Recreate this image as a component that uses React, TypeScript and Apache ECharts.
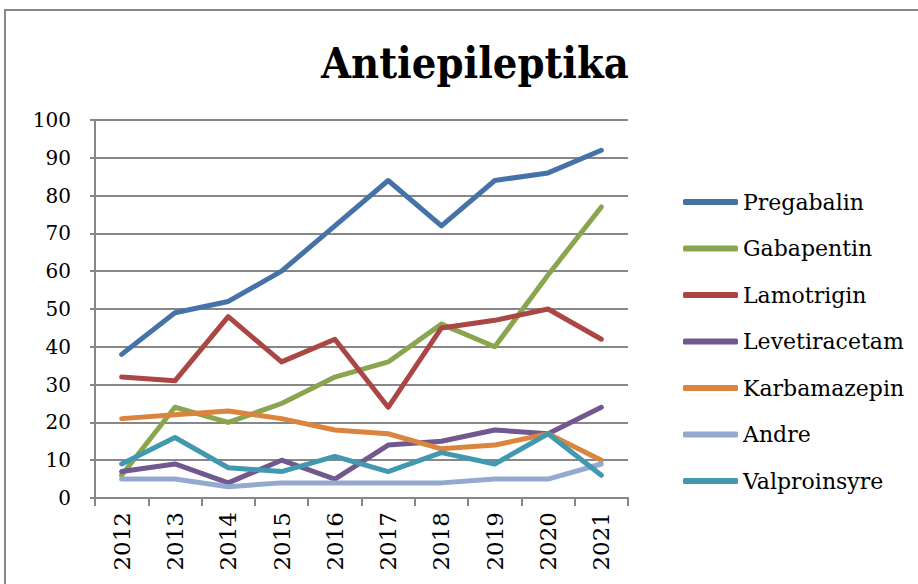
import React, { useEffect, useRef } from "react";
import * as echarts from "echarts";

const years = ["2012", "2013", "2014", "2015", "2016", "2017", "2018", "2019", "2020", "2021"];
const pregabalin = [38, 49, 52, 60, 72, 84, 72, 84, 86, 92];
const gabapentin = [6, 24, 20, 25, 32, 36, 46, 40, 59, 77];
const lamotrigin = [32, 31, 48, 36, 42, 24, 45, 47, 50, 42];
const levetiracetam = [7, 9, 4, 10, 5, 14, 15, 18, 17, 24];
const karbamazepin = [21, 22, 23, 21, 18, 17, 13, 14, 17, 10];
const andre = [5, 5, 3, 4, 4, 4, 4, 5, 5, 9];
const valproinsyre = [9, 16, 8, 7, 11, 7, 12, 9, 17, 6];

const seriesDefs = [
  { name: "Pregabalin", data: pregabalin, color: "#4572A7" },
  { name: "Gabapentin", data: gabapentin, color: "#89A54E" },
  { name: "Lamotrigin", data: lamotrigin, color: "#AA4643" },
  { name: "Levetiracetam", data: levetiracetam, color: "#71588F" },
  { name: "Karbamazepin", data: karbamazepin, color: "#DB843D" },
  { name: "Andre", data: andre, color: "#93A9CF" },
  { name: "Valproinsyre", data: valproinsyre, color: "#4198AF" },
];

const FONT = "'DejaVu Serif', serif";

export default function App() {
  const ref = useRef<HTMLDivElement>(null);
  useEffect(() => {
    if (!ref.current) return;
    const chart = echarts.init(ref.current, undefined, { renderer: "svg" });
    chart.setOption({
      animation: false,
      backgroundColor: "#ffffff",
      title: {
        text: "Antiepileptika",
        left: 470,
        top: 36,
        textAlign: "center",
        textStyle: {
          fontFamily: "'DejaVu Serif Condensed', 'DejaVu Serif', serif",
          fontWeight: "bold",
          fontSize: 43,
          color: "#000",
        },
      },
      graphic: [
        {
          type: "rect",
          shape: { x: 5, y: 10, width: 1000, height: 700 },
          style: { fill: "none", stroke: "#878787", lineWidth: 2 },
          silent: true,
        },
      ],
      legend: {
        orient: "vertical",
        left: 678,
        top: 185,
        itemWidth: 55,
        itemHeight: 6,
        itemGap: 22.5,
        icon: "roundRect",
        textStyle: {
          fontFamily: FONT,
          fontSize: 22,
          color: "#000",
          lineHeight: 24,
          padding: [0, 0, 0, 0],
        },
        data: seriesDefs.map((s) => s.name),
      },
      grid: { left: 95, top: 120, right: 290, bottom: 86, containLabel: false },
      xAxis: {
        type: "category",
        data: years,
        boundaryGap: true,
        axisLine: { show: true, lineStyle: { color: "#878787", width: 2 } },
        axisTick: { show: true, length: 8, interval: 0, lineStyle: { color: "#878787", width: 2 } },
        axisLabel: {
          rotate: 90,
          interval: 0,
          margin: 14,
          fontFamily: FONT,
          fontSize: 23,
          color: "#000",
        },
        splitLine: { show: false },
      },
      yAxis: {
        type: "value",
        min: 0,
        max: 100,
        interval: 10,
        axisLine: { show: true, lineStyle: { color: "#878787", width: 2 } },
        axisTick: { show: true, length: 5, lineStyle: { color: "#878787", width: 2 } },
        axisLabel: { margin: 24, fontFamily: FONT, fontSize: 20, color: "#000" },
        splitLine: { show: true, lineStyle: { color: "#878787", width: 2 } },
      },
      series: seriesDefs.map((s) => ({
        name: s.name,
        type: "line",
        data: s.data,
        showSymbol: false,
        symbol: "none",
        color: s.color,
        lineStyle: { width: 5, color: s.color, cap: "round", join: "round" },
        itemStyle: { color: s.color },
      })),
    });
    return () => chart.dispose();
  }, []);
  return (
    <div
      ref={ref}
      style={{ position: "absolute", left: 0, top: 0, width: 918, height: 584 }}
    />
  );
}
